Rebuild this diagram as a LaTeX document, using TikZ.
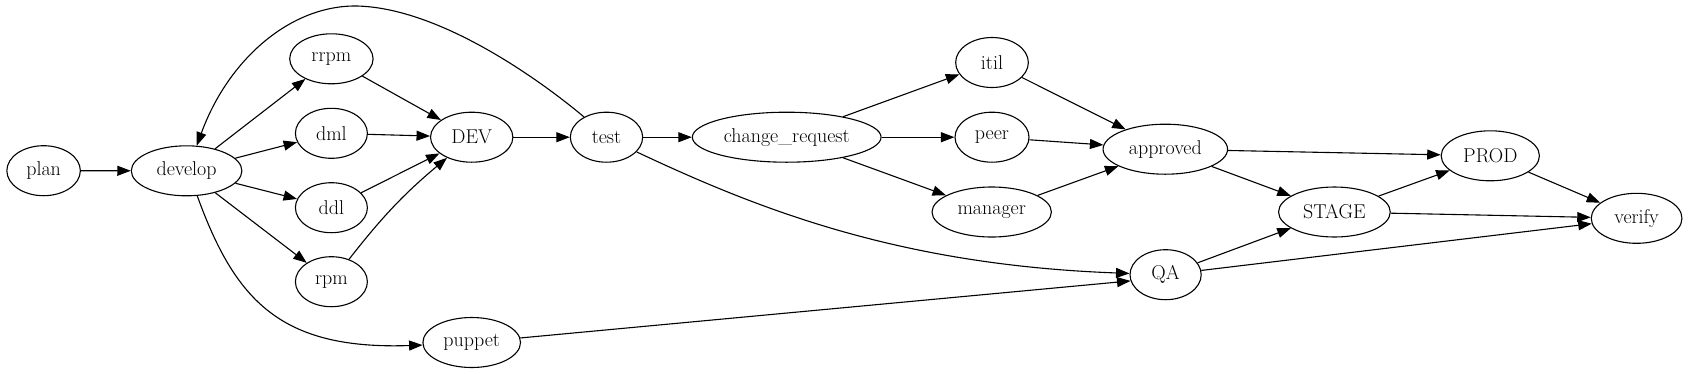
\documentclass[tikz,border=0pt]{standalone}
\usetikzlibrary{shapes.geometric,arrows.meta}
\begin{document}
\begin{tikzpicture}[x=1pt,y=-1pt,
  nd/.style={draw,ellipse,line width=1.1pt,inner sep=0pt,minimum height=50pt,font=\fontsize{20}{22}\selectfont},
  ed/.style={line width=1.1pt,-{Triangle[length=13.5pt,width=10pt]}}]
\useasboundingbox (0,0) rectangle (1688,373);
\node[nd,minimum width=73.5pt] (plan) at (43.6,170.7) {plan};
\node[nd,minimum width=110.6pt] (develop) at (186.6,170.8) {develop};
\node[nd,minimum width=83.4pt] (rrpm) at (331.4,58.8) {rrpm};
\node[nd,minimum width=72pt] (dml) at (331.4,133.3) {dml};
\node[nd,minimum width=72pt] (ddl) at (331.4,207.7) {ddl};
\node[nd,minimum width=72pt] (rpm) at (331.4,281.7) {rpm};
\node[nd,minimum width=82.3pt] (DEV) at (471.7,137.2) {DEV};
\node[nd,minimum width=97.6pt] (puppet) at (471.7,342.5) {puppet};
\node[nd,minimum width=72.3pt] (test) at (606.5,137.2) {test};
\node[nd,minimum width=188.7pt] (cr) at (786.7,137.2) {change\_request};
\node[nd,minimum width=72.7pt] (itil) at (992,62.5) {itil};
\node[nd,minimum width=74pt] (peer) at (992,137.2) {peer};
\node[nd,minimum width=119.4pt] (manager) at (991.7,212) {manager};
\node[nd,minimum width=124.5pt] (approved) at (1165.3,149.2) {approved};
\node[nd,minimum width=71.2pt] (QA) at (1165.6,274.7) {QA};
\node[nd,minimum width=111.7pt] (STAGE) at (1334.4,212) {STAGE};
\node[nd,minimum width=98.2pt] (PROD) at (1490.3,155.8) {PROD};
\node[nd,minimum width=90.7pt] (verify) at (1636.6,218.3) {verify};

\draw[ed] (plan) -- (develop);
\draw[ed] (develop) -- (rrpm);
\draw[ed] (develop) -- (dml);
\draw[ed] (develop) -- (ddl);
\draw[ed] (develop) -- (rpm);
\draw[ed] (rrpm) -- (DEV);
\draw[ed] (dml) -- (DEV);
\draw[ed] (ddl) -- (DEV);
\draw[ed] (rpm) to[bend left=6] (DEV);
\draw[ed] (DEV) -- (test);
\draw[ed] (test) -- (cr);
\draw[ed] (test.138) .. controls (540,80) and (440,8) .. (357,6) .. controls (290,5) and (228,60) .. (develop.68);
\draw[ed] (develop.-67) .. controls (235,300) and (280,350) .. (puppet.183);
\draw[ed] (test.-26) .. controls (760,210) and (900,265) .. (QA.178);
\draw[ed] (puppet) -- (QA.190);
\draw[ed] (cr) -- (itil);
\draw[ed] (cr) -- (peer);
\draw[ed] (cr) -- (manager);
\draw[ed] (itil) -- (approved);
\draw[ed] (peer) -- (approved);
\draw[ed] (manager) -- (approved);
\draw[ed] (approved) -- (PROD);
\draw[ed] (approved) -- (STAGE);
\draw[ed] (STAGE) -- (PROD);
\draw[ed] (STAGE) -- (verify);
\draw[ed] (QA) -- (STAGE);
\draw[ed] (QA) -- (verify);
\draw[ed] (PROD) -- (verify);
\end{tikzpicture}
\end{document}
